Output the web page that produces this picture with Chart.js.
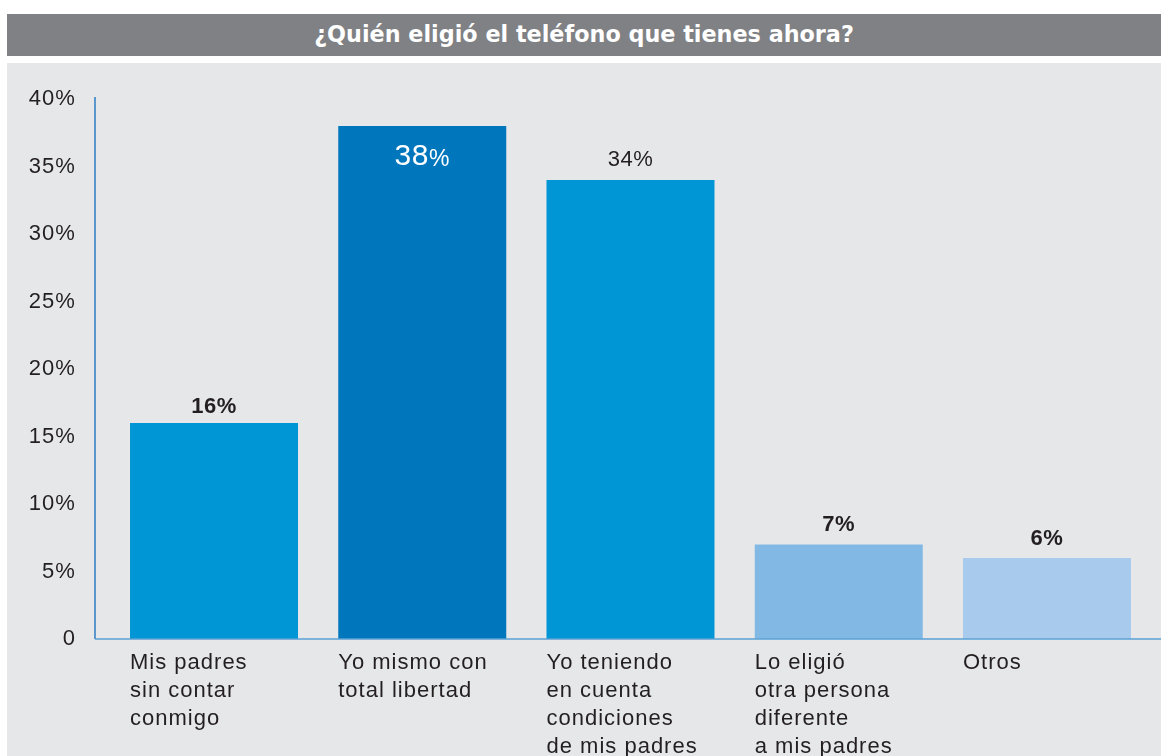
<!DOCTYPE html>
<html>
<head>
<meta charset="utf-8">
<script src="https://cdn.jsdelivr.net/npm/chart.js@4"></script>
<style>
  body { margin: 0; background: #ffffff; width: 1161px; height: 756px; position: relative; overflow: hidden; font-family: "Liberation Sans", Arial, sans-serif; }
  #titleBar { position: absolute; left: 7px; top: 14px; width: 1154px; height: 42px; background: #808184; color: #ffffff; font-family: "DejaVu Sans", sans-serif; font-weight: bold; font-size: 22.3px; line-height: 40px; text-align: center; }
  #panel { position: absolute; left: 7px; top: 63px; width: 1154px; height: 693px; background: #e6e7e9; }
</style>
</head>
<body>
<div id="titleBar">¿Quién eligió el teléfono que tienes ahora?</div>
<div id="panel"><canvas id="myChart"></canvas></div>
<script>
const categories = [
    ['Mis padres', 'sin contar', 'conmigo'],
    ['Yo mismo con', 'total libertad'],
    ['Yo teniendo', 'en cuenta', 'condiciones', 'de mis padres'],
    ['Lo eligió', 'otra persona', 'diferente', 'a mis padres'],
    ['Otros']
];
const percentValues = [16, 38, 34, 7, 6];
const yTickLabels = ['0', '5%', '10%', '15%', '20%', '25%', '30%', '35%', '40%'];

const barColors = ['#0095d4', '#0077bd', '#0095d4', '#82b8e4', '#a8cbed'];
const textColor = '#231f20';
const fontFamily = '"Liberation Sans", Arial, sans-serif';

// how each value label is written: inside/above the bar, colour, weight, sizes
const labelStyles = [
    { inside: false, color: textColor, weight: 'bold', num: 22, pct: 22, gap: 16 },
    { inside: true, color: '#ffffff', weight: 'normal', num: 30, pct: 23, gap: 31 },
    { inside: false, color: textColor, weight: 'normal', num: 22, pct: 22, gap: 20 },
    { inside: false, color: textColor, weight: 'bold', num: 22, pct: 22, gap: 20 },
    { inside: false, color: textColor, weight: 'bold', num: 22, pct: 22, gap: 19 }
];

// slightly wider tracking for all canvas text
const tracking = {
    id: 'tracking',
    beforeDraw(chart) {
        chart.ctx.letterSpacing = '1px';
    }
};

const axisLines = {
    id: 'axisLines',
    afterDatasetsDraw(chart) {
        const { ctx, chartArea } = chart;
        const x0 = 88;
        ctx.save();
        ctx.lineWidth = 1.5;
        ctx.strokeStyle = '#2c7dbf';
        ctx.beginPath();
        ctx.moveTo(x0, chartArea.top - 2);
        ctx.lineTo(x0, chartArea.bottom);
        ctx.stroke();
        ctx.strokeStyle = '#5aa2d6';
        ctx.beginPath();
        ctx.moveTo(x0, chartArea.bottom);
        ctx.lineTo(chart.width, chartArea.bottom);
        ctx.stroke();
        ctx.restore();
    }
};

const valueLabels = {
    id: 'valueLabels',
    afterDatasetsDraw(chart) {
        const { ctx } = chart;
        const meta = chart.getDatasetMeta(0);
        ctx.save();
        ctx.letterSpacing = '0.5px';
        ctx.textBaseline = 'middle';
        ctx.textAlign = 'left';
        meta.data.forEach((bar, i) => {
            const s = labelStyles[i];
            const num = String(percentValues[i]);
            const numFont = s.weight + ' ' + s.num + 'px ' + fontFamily;
            const pctFont = s.weight + ' ' + s.pct + 'px ' + fontFamily;
            ctx.font = numFont;
            const wNum = ctx.measureText(num).width;
            ctx.font = pctFont;
            const wPct = ctx.measureText('%').width;
            const left = bar.x - (wNum + wPct) / 2;
            const y = s.inside ? bar.y + s.gap : bar.y - s.gap;
            ctx.fillStyle = s.color;
            ctx.font = numFont;
            ctx.fillText(num, left, y);
            ctx.font = pctFont;
            ctx.fillText('%', left + wNum, y + (s.num - s.pct) * 0.36);
        });
        ctx.restore();
    }
};

const ctx = document.getElementById('myChart').getContext('2d');
new Chart(ctx, {
    type: 'bar',
    data: {
        labels: categories,
        datasets: [{
            data: percentValues,
            backgroundColor: barColors,
            borderWidth: 0,
            barPercentage: 168 / 208.25,
            categoryPercentage: 1
        }]
    },
    options: {
        responsive: true,
        maintainAspectRatio: false,
        animation: false,
        layout: { padding: { top: 36, right: 9.9, left: 0, bottom: 0 } },
        plugins: {
            legend: { display: false },
            tooltip: { enabled: false }
        },
        scales: {
            x: {
                grid: { display: false, drawTicks: false },
                border: { display: false },
                afterFit(scale) { scale.height = 117; },
                ticks: {
                    color: textColor,
                    align: 'start',
                    labelOffset: -84,
                    padding: 10,
                    maxRotation: 0,
                    autoSkip: false,
                    font: { family: fontFamily, size: 22, lineHeight: 28 / 22 }
                }
            },
            y: {
                min: 0,
                max: 40,
                grid: { display: false, drawTicks: false },
                border: { display: false },
                afterFit(scale) {
                    scale.width = 102.9;
                    // the wide label gap should not push the plot area down
                    scale.paddingTop = 0;
                    scale.paddingBottom = 0;
                },
                ticks: {
                    stepSize: 5,
                    padding: 34,
                    color: textColor,
                    font: { family: fontFamily, size: 22 },
                    callback: (v) => yTickLabels[v / 5]
                }
            }
        }
    },
    plugins: [tracking, axisLines, valueLabels]
});
</script>
</body>
</html>
